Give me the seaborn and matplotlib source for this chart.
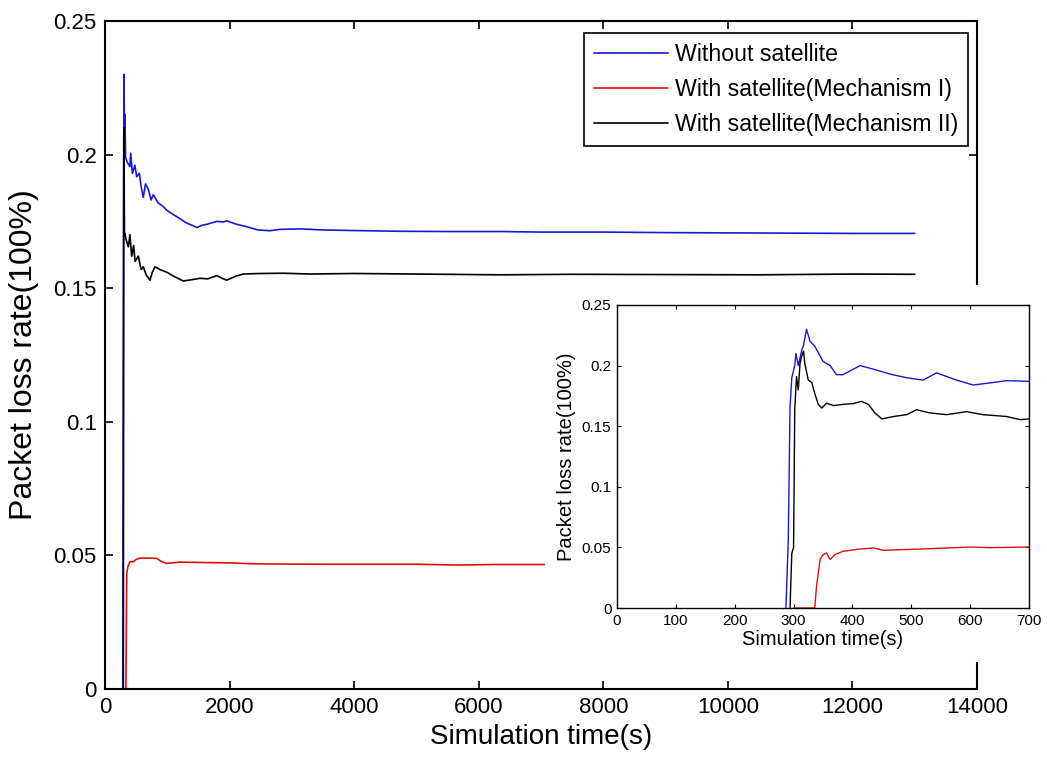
"""
Packet loss rate over simulation time, with zoomed inset of the first 700 s
"""

import matplotlib
matplotlib.use("Agg")
import matplotlib.pyplot as plt
from matplotlib.patches import Rectangle
import seaborn as sns

sns.set_style("ticks")
plt.rcParams["font.family"] = ["Liberation Sans", "DejaVu Sans"]
for key in ["text.color", "axes.labelcolor", "xtick.color", "ytick.color",
            "axes.edgecolor"]:
    plt.rcParams[key] = "black"

labels = [
    "Without satellite",
    "With satellite(Mechanism I)",
    "With satellite(Mechanism II)",
]
colors = ["#1818d0", "#dd1010", "#000000"]

# ---- main plot data (0 - 13000 s) ----
blue_t = [286, 296, 300, 305, 312, 320, 330, 360, 400, 412, 440, 480, 508, 551,
          580, 615, 650, 696, 740, 776, 850, 937, 1000, 1100, 1204, 1300, 1400,
          1472, 1550, 1650, 1793, 1900, 1953, 2100, 2275, 2450, 2649, 2800,
          3131, 3500, 3933, 4735, 5500, 6340, 7000, 8000, 9000, 10000, 11000,
          12000, 13000]
blue_y = [0, 0.15, 0.20, 0.23, 0.205, 0.215, 0.199, 0.197, 0.1955, 0.2005,
          0.193, 0.196, 0.1917, 0.193, 0.188, 0.184, 0.189, 0.187, 0.183, 0.185,
          0.182, 0.1805, 0.179, 0.1775, 0.176, 0.1745, 0.1735, 0.1727, 0.1735,
          0.174, 0.175, 0.1748, 0.1752, 0.174, 0.173, 0.1718, 0.1715, 0.172,
          0.1722, 0.1718, 0.1716, 0.1713, 0.1712, 0.1712, 0.1710, 0.1710,
          0.1708, 0.1707, 0.1706, 0.1705, 0.1705]

red_t = [300, 336, 340, 348, 370, 401, 455, 500, 562, 722, 829, 900, 990, 1200,
         1418, 2000, 2328, 2595, 3500, 5000, 5645, 6283, 6955, 9000, 13000]
red_y = [0, 0, 0.015, 0.0433, 0.046, 0.0477, 0.0476, 0.0485, 0.049, 0.049,
         0.0489, 0.0478, 0.047, 0.0475, 0.0474, 0.0472, 0.0469, 0.0468, 0.0467,
         0.0467, 0.0464, 0.0466, 0.0466, 0.0466, 0.0466]

black_t = [294, 298, 302, 306, 312, 320, 340, 374, 400, 428, 460, 482, 535, 580,
           615, 660, 722, 760, 802, 880, 990, 1100, 1257, 1400, 1525, 1650,
           1793, 1900, 1953, 2100, 2221, 2500, 2863, 3300, 4000, 5000, 6340,
           7500, 9000, 10500, 12000, 13000]
black_y = [0, 0.12, 0.21, 0.20, 0.17, 0.1705, 0.168, 0.1655, 0.170, 0.162,
           0.166, 0.160, 0.162, 0.157, 0.158, 0.155, 0.153, 0.156, 0.158, 0.157,
           0.156, 0.1545, 0.1527, 0.1532, 0.1537, 0.1535, 0.1547, 0.1535, 0.153,
           0.1545, 0.1553, 0.1555, 0.1556, 0.1553, 0.1555, 0.1553, 0.155,
           0.1552, 0.1551, 0.155, 0.1553, 0.1552]

# ---- inset data (0 - 700 s) ----
in_blue_t = [287, 291, 294, 297, 302, 304, 308, 314, 317, 322, 328, 336, 350,
             362, 373, 384, 413, 436, 464, 492, 520, 543, 577, 605, 634, 662, 700]
in_blue_y = [0, 0.056, 0.166, 0.19, 0.2, 0.21, 0.2, 0.213, 0.217, 0.23, 0.22,
             0.216, 0.2035, 0.2, 0.1925, 0.1925, 0.2, 0.197, 0.193, 0.19, 0.188,
             0.194, 0.188, 0.184, 0.1857, 0.1876, 0.187]

in_red_t = [300, 336, 339, 345, 350, 356, 362, 370, 384, 413, 436, 453, 481,
            520, 560, 600, 634, 700]
in_red_y = [0, 0, 0.018, 0.04, 0.044, 0.0454, 0.04, 0.044, 0.0468, 0.0487,
            0.0495, 0.0476, 0.0481, 0.0487, 0.0495, 0.0503, 0.0498, 0.0503]

in_black_t = [294, 297, 300, 302, 305, 308, 311, 314, 317, 319, 325, 331, 336,
              342, 348, 356, 368, 384, 401, 415, 427, 438, 450, 470, 492, 509,
              531, 560, 594, 622, 662, 685, 700]
in_black_y = [0, 0.045, 0.05, 0.164, 0.191, 0.18, 0.202, 0.208, 0.212, 0.202,
              0.188, 0.186, 0.177, 0.168, 0.165, 0.169, 0.167, 0.168, 0.1686,
              0.1705, 0.168, 0.161, 0.156, 0.158, 0.1595, 0.1636, 0.161, 0.1595,
              0.162, 0.1595, 0.158, 0.1554, 0.156]

main_series = [(blue_t, blue_y), (red_t, red_y), (black_t, black_y)]
inset_series = [(in_blue_t, in_blue_y), (in_red_t, in_red_y),
                (in_black_t, in_black_y)]

fig = plt.figure(figsize=(10.47, 7.6), dpi=100)
ax = fig.add_axes([0.1003, 0.0934, 0.8329, 0.879])

for (t, y), lab, col in zip(main_series, labels, colors):
    sns.lineplot(x=t, y=y, ax=ax, color=col, linewidth=1.2, label=lab,
                 estimator=None, sort=False)

ax.set_xlim(0, 14000)
ax.set_ylim(0, 0.25)
ax.set_xticks(range(0, 14001, 2000))
ax.set_yticks([0, 0.05, 0.1, 0.15, 0.2, 0.25])
ax.set_yticklabels(["0", "0.05", "0.1", "0.15", "0.2", "0.25"])
ax.tick_params(direction="in", top=True, right=True, length=6, width=1.2,
               labelsize=16, pad=6)
ax.set_xlabel("Simulation time(s)", fontsize=20, labelpad=4)
ax.set_ylabel("Packet loss rate(100%)", fontsize=23, labelpad=10)
for sp in ax.spines.values():
    sp.set_linewidth(1.5)

leg = ax.legend(loc="upper right", bbox_to_anchor=(0.9897, 0.982),
                borderaxespad=0, fontsize=16.7, fancybox=False, framealpha=1,
                edgecolor="black", handlelength=3.2, labelspacing=0.52,
                handletextpad=0.3, borderpad=0.42)
leg.get_frame().set_linewidth(1.2)

# white panel behind the inset, hides the main plot there
fig.patches.append(Rectangle((0.5205, 0.129), 0.4795, 0.496,
                             transform=fig.transFigure, facecolor="white",
                             edgecolor="none", zorder=1))

ins = fig.add_axes([0.5893, 0.2, 0.3935, 0.3987])
ins.set_zorder(2)
for (t, y), col in zip(inset_series, colors):
    sns.lineplot(x=t, y=y, ax=ins, color=col, linewidth=1.0,
                 estimator=None, sort=False)

ins.set_xlim(0, 700)
ins.set_ylim(0, 0.25)
ins.set_xticks(range(0, 701, 100))
ins.set_yticks([0, 0.05, 0.1, 0.15, 0.2, 0.25])
ins.set_yticklabels(["0", "0.05", "0.1", "0.15", "0.2", "0.25"])
ins.tick_params(direction="in", top=True, right=True, length=3, width=0.8,
                labelsize=11, pad=4)
ins.set_xlabel("Simulation time(s)", fontsize=14.5, labelpad=2)
ins.set_ylabel("Packet loss rate(100%)", fontsize=14.5, labelpad=4)
for sp in ins.spines.values():
    sp.set_linewidth(1.0)

fig.savefig("out.png", dpi=100)
plt.close(fig)
